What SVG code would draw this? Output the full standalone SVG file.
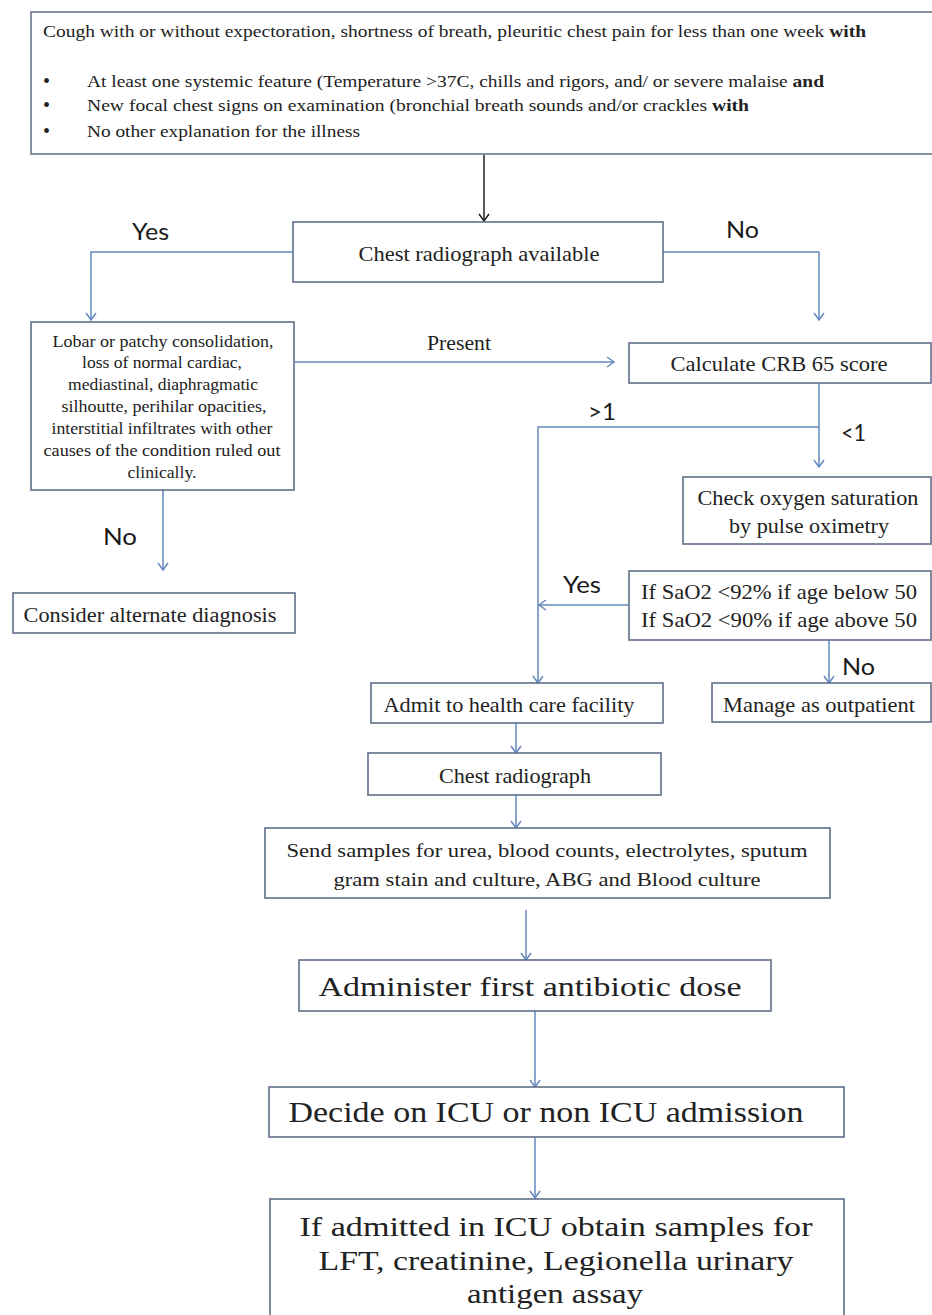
<svg xmlns="http://www.w3.org/2000/svg" width="932" height="1315" viewBox="0 0 932 1315">
<style>
.bg{fill:#ffffff}
.box{fill:#ffffff;stroke:#5e6f8a;stroke-width:1.6}
.tbox{fill:#ffffff;stroke:#7b8494;stroke-width:1.8}
.t{font-family:"Liberation Serif","Times New Roman",serif;fill:#222222}
.c{text-anchor:middle}
.lbl{font-family:Lato,"Open Sans",sans-serif;fill:#1a1a1a;font-size:24px}
.con{fill:none;stroke:#6688bf;stroke-width:1.5}
.blk{fill:none;stroke:#222222;stroke-width:1.5}
</style>
<defs>
<marker id="ah" markerUnits="userSpaceOnUse" markerWidth="14" markerHeight="14" refX="12" refY="7" orient="auto">
<path d="M5,2 L12,7 L5,12" fill="none" stroke="#6688bf" stroke-width="1.5"/>
</marker>
<marker id="ahk" markerUnits="userSpaceOnUse" markerWidth="14" markerHeight="14" refX="12" refY="7" orient="auto">
<path d="M5,2 L12,7 L5,12" fill="none" stroke="#222222" stroke-width="1.5"/>
</marker>
</defs>
<rect class="bg" x="0" y="0" width="932" height="1315"/>

<g id="connectors">
<path class="blk" d="M484,155 L484,221" marker-end="url(#ahk)"/>
<path class="con" d="M293,252 L91,252 L91,320" marker-end="url(#ah)"/>
<path class="con" d="M663,252 L819,252 L819,320" marker-end="url(#ah)"/>
<path class="con" d="M294,362 L614,362" marker-end="url(#ah)"/>
<path class="con" d="M819,383 L819,467" marker-end="url(#ah)"/>
<path class="con" d="M819,427 L538,427 L538,683" marker-end="url(#ah)"/>
<path class="con" d="M629,605 L539,605" marker-end="url(#ah)"/>
<path class="con" d="M163,490 L163,570" marker-end="url(#ah)"/>
<path class="con" d="M829,640 L829,683" marker-end="url(#ah)"/>
<path class="con" d="M516,723 L516,753" marker-end="url(#ah)"/>
<path class="con" d="M516,795 L516,828" marker-end="url(#ah)"/>
<path class="con" d="M526,910 L526,960" marker-end="url(#ah)"/>
<path class="con" d="M535,1011 L535,1087" marker-end="url(#ah)"/>
<path class="con" d="M535,1137 L535,1198" marker-end="url(#ah)"/>
</g>

<g id="labels">
<text class="lbl" x="132" y="240" textLength="37" lengthAdjust="spacingAndGlyphs">Yes</text>
<text class="lbl" x="726" y="238" textLength="33" lengthAdjust="spacingAndGlyphs">No</text>
<text class="t" x="427" y="350" font-size="20" textLength="64" lengthAdjust="spacingAndGlyphs">Present</text>
<text class="lbl" x="588" y="420" textLength="28" lengthAdjust="spacingAndGlyphs">&gt;1</text>
<text class="lbl" x="841" y="441" textLength="25" lengthAdjust="spacingAndGlyphs">&lt;1</text>
<text class="lbl" x="103" y="545" textLength="34" lengthAdjust="spacingAndGlyphs">No</text>
<text class="lbl" x="563" y="593" textLength="38" lengthAdjust="spacingAndGlyphs">Yes</text>
<text class="lbl" x="842" y="675" textLength="33" lengthAdjust="spacingAndGlyphs">No</text>
</g>

<g id="n-symptoms">
<rect class="tbox" x="31" y="12" width="910" height="142"/>
<text class="t" x="43" y="37" font-size="16" textLength="823" lengthAdjust="spacingAndGlyphs">Cough with or without expectoration, shortness of breath, pleuritic chest pain for less than one week <tspan font-weight="bold">with</tspan></text>
<text class="t" x="43" y="88" font-size="20">•</text>
<text class="t" x="87" y="87" font-size="16" textLength="737" lengthAdjust="spacingAndGlyphs">At least  one systemic feature (Temperature &gt;37C, chills and rigors, and/ or severe malaise <tspan font-weight="bold">and</tspan></text>
<text class="t" x="43" y="112" font-size="20">•</text>
<text class="t" x="87" y="111" font-size="16" textLength="662" lengthAdjust="spacingAndGlyphs">New focal chest signs on examination (bronchial breath sounds and/or crackles  <tspan font-weight="bold">with</tspan></text>
<text class="t" x="43" y="138" font-size="20">•</text>
<text class="t" x="87" y="137" font-size="16" textLength="273" lengthAdjust="spacingAndGlyphs">No other explanation for the illness</text>
</g>

<g id="n-cxr-available">
<rect class="box" x="293" y="222" width="370" height="60"/>
<text class="t c" x="479" y="261" font-size="22" textLength="241" lengthAdjust="spacingAndGlyphs">Chest radiograph  available</text>
</g>

<g id="n-lobar">
<rect class="box" x="31" y="322" width="263" height="168"/>
<text class="t c" x="163" y="347" font-size="17" textLength="221" lengthAdjust="spacingAndGlyphs">Lobar or patchy consolidation,</text>
<text class="t c" x="162" y="368" font-size="17" textLength="160" lengthAdjust="spacingAndGlyphs">loss of normal cardiac,</text>
<text class="t c" x="163" y="390" font-size="17" textLength="190" lengthAdjust="spacingAndGlyphs">mediastinal, diaphragmatic</text>
<text class="t c" x="164" y="412" font-size="17" textLength="205" lengthAdjust="spacingAndGlyphs">silhoutte, perihilar opacities,</text>
<text class="t c" x="162" y="434" font-size="17" textLength="221" lengthAdjust="spacingAndGlyphs">interstitial  infiltrates with other</text>
<text class="t c" x="162" y="456" font-size="17" textLength="237" lengthAdjust="spacingAndGlyphs">causes of  the condition ruled out</text>
<text class="t c" x="162" y="478" font-size="17" textLength="69" lengthAdjust="spacingAndGlyphs">clinically.</text>
</g>

<g id="n-alternate">
<rect class="box" x="13" y="593" width="282" height="40"/>
<text class="t c" x="150" y="622" font-size="20" textLength="253" lengthAdjust="spacingAndGlyphs">Consider  alternate  diagnosis</text>
</g>

<g id="n-crb65">
<rect class="box" x="629" y="343" width="302" height="40"/>
<text class="t c" x="779" y="371" font-size="21" textLength="217" lengthAdjust="spacingAndGlyphs">Calculate  CRB 65 score</text>
</g>

<g id="n-oxygen">
<rect class="box" x="683" y="477" width="248" height="67"/>
<text class="t c" x="808" y="505" font-size="22" textLength="221" lengthAdjust="spacingAndGlyphs">Check  oxygen  saturation</text>
<text class="t c" x="809" y="533" font-size="22" textLength="160" lengthAdjust="spacingAndGlyphs">by  pulse  oximetry</text>
</g>

<g id="n-sao2">
<rect class="box" x="629" y="571" width="302" height="69"/>
<text class="t" x="641" y="599" font-size="21" textLength="276" lengthAdjust="spacingAndGlyphs">If SaO2 &lt;92% if age below 50</text>
<text class="t" x="641" y="627" font-size="21" textLength="276" lengthAdjust="spacingAndGlyphs">If SaO2 &lt;90% if age above 50</text>
</g>

<g id="n-admit">
<rect class="box" x="371" y="683" width="292" height="40"/>
<text class="t c" x="509" y="712" font-size="21" textLength="251" lengthAdjust="spacingAndGlyphs">Admit to health care facility</text>
</g>

<g id="n-outpatient">
<rect class="box" x="712" y="683" width="219" height="39"/>
<text class="t c" x="819" y="712" font-size="21" textLength="192" lengthAdjust="spacingAndGlyphs">Manage  as outpatient</text>
</g>

<g id="n-cxr">
<rect class="box" x="368" y="753" width="293" height="42"/>
<text class="t c" x="515" y="783" font-size="21" textLength="152" lengthAdjust="spacingAndGlyphs">Chest radiograph</text>
</g>

<g id="n-samples">
<rect class="box" x="265" y="828" width="565" height="70"/>
<text class="t c" x="547" y="857" font-size="19" textLength="521" lengthAdjust="spacingAndGlyphs">Send samples for urea, blood counts, electrolytes, sputum</text>
<text class="t c" x="547" y="886" font-size="19" textLength="427" lengthAdjust="spacingAndGlyphs">gram stain and culture, ABG and Blood culture</text>
</g>

<g id="n-antibiotic">
<rect class="box" x="299" y="960" width="472" height="51"/>
<text class="t c" x="530" y="996" font-size="28" textLength="423" lengthAdjust="spacingAndGlyphs">Administer  first antibiotic  dose</text>
</g>

<g id="n-decide">
<rect class="box" x="269" y="1087" width="575" height="50"/>
<text class="t c" x="546" y="1122" font-size="30" textLength="515" lengthAdjust="spacingAndGlyphs">Decide on ICU or non ICU admission</text>
</g>

<g id="n-icu">
<rect class="box" x="270" y="1199" width="574" height="130"/>
<text class="t c" x="556" y="1236" font-size="27" textLength="513" lengthAdjust="spacingAndGlyphs">If admitted in ICU obtain  samples  for</text>
<text class="t c" x="556" y="1270" font-size="27" textLength="475" lengthAdjust="spacingAndGlyphs">LFT, creatinine,  Legionella  urinary</text>
<text class="t c" x="555" y="1303" font-size="27" textLength="176" lengthAdjust="spacingAndGlyphs">antigen  assay</text>
</g>
</svg>
